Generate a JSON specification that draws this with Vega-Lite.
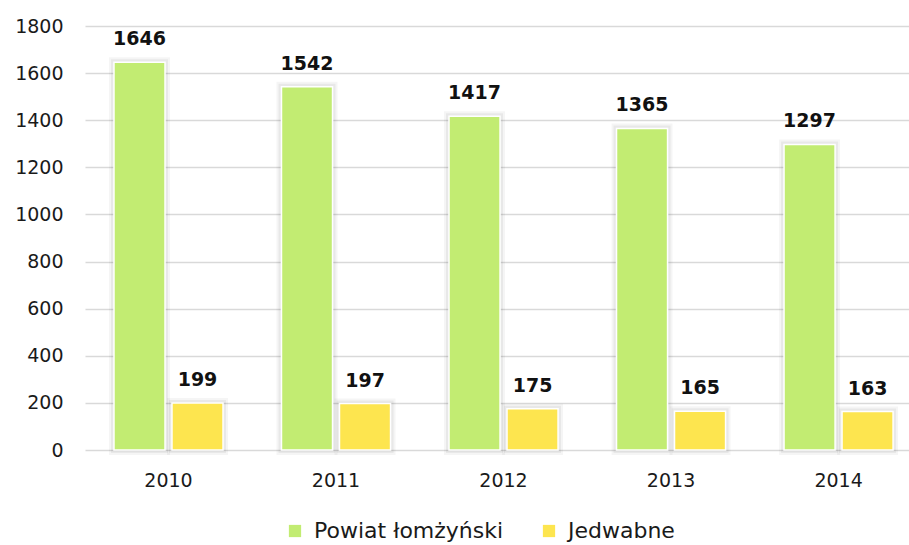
{
  "$schema": "https://vega.github.io/schema/vega-lite/v6.json",
  "width": 824,
  "height": 424,
  "autosize": {"type": "none"},
  "padding": {"left": 85, "top": 26, "right": 0, "bottom": 95},
  "background": "white",
  "config": {
    "view": {"stroke": null},
    "font": "DejaVu Sans"
  },
  "data": {
    "values": [
      {"year": "2010", "series": "Powiat łomżyński", "value": 1646},
      {"year": "2010", "series": "Jedwabne", "value": 199},
      {"year": "2011", "series": "Powiat łomżyński", "value": 1542},
      {"year": "2011", "series": "Jedwabne", "value": 197},
      {"year": "2012", "series": "Powiat łomżyński", "value": 1417},
      {"year": "2012", "series": "Jedwabne", "value": 175},
      {"year": "2013", "series": "Powiat łomżyński", "value": 1365},
      {"year": "2013", "series": "Jedwabne", "value": 165},
      {"year": "2014", "series": "Powiat łomżyński", "value": 1297},
      {"year": "2014", "series": "Jedwabne", "value": 163}
    ]
  },
  "encoding": {
    "x": {
      "field": "year", "type": "nominal",
      "scale": {"paddingInner": 0.313, "paddingOuter": 0.116, "align": 0.668},
      "axis": {
        "title": null, "labelAngle": 0, "labelFontSize": 19, "labelColor": "#1a1a1a",
        "labelPadding": 21, "ticks": false, "domain": false
      }
    },
    "xOffset": {
      "field": "series", "type": "nominal",
      "sort": ["Powiat łomżyński", "Jedwabne"],
      "scale": {"paddingInner": 0.12, "paddingOuter": 0.052}
    },
    "y": {
      "field": "value", "type": "quantitative",
      "scale": {"domain": [0, 1800], "nice": false},
      "axis": {
        "title": null, "values": [0,200,400,600,800,1000,1200,1400,1600,1800],
        "format": "d",
        "labelFontSize": 19, "labelColor": "#1a1a1a", "labelPadding": 22,
        "ticks": false, "domain": false,
        "gridColor": "#d9d9d9", "gridWidth": 1.5
      }
    }
  },
  "layer": [
    {
      "mark": {"type": "bar", "stroke": "#000000", "strokeWidth": 10, "strokeOpacity": 0.04, "fillOpacity": 0},
      "encoding": {}
    },
    {
      "mark": {"type": "bar", "stroke": "#000000", "strokeWidth": 6, "strokeOpacity": 0.05, "fillOpacity": 0},
      "encoding": {}
    },
    {
      "mark": {"type": "bar", "stroke": "white", "strokeWidth": 1.5},
      "encoding": {
        "color": {
          "field": "series", "type": "nominal",
          "sort": ["Powiat łomżyński", "Jedwabne"],
          "scale": {"domain": ["Powiat łomżyński", "Jedwabne"], "range": ["#c2ec72", "#fde54f"]},
          "legend": {
            "title": null, "orient": "none", "direction": "horizontal",
            "legendX": 199, "legendY": 494,
            "symbolType": "square", "symbolSize": 150, "symbolStrokeWidth": 0,
            "labelFontSize": 22, "labelColor": "#1a1a1a", "labelLimit": 0,
            "columnPadding": 34, "labelOffset": 8
          }
        }
      }
    },
    {
      "mark": {"type": "text", "dy": -17, "fontWeight": "bold", "fontSize": 19, "color": "#111111", "baseline": "alphabetic"},
      "encoding": {"text": {"field": "value", "type": "quantitative"}}
    }
  ]
}
